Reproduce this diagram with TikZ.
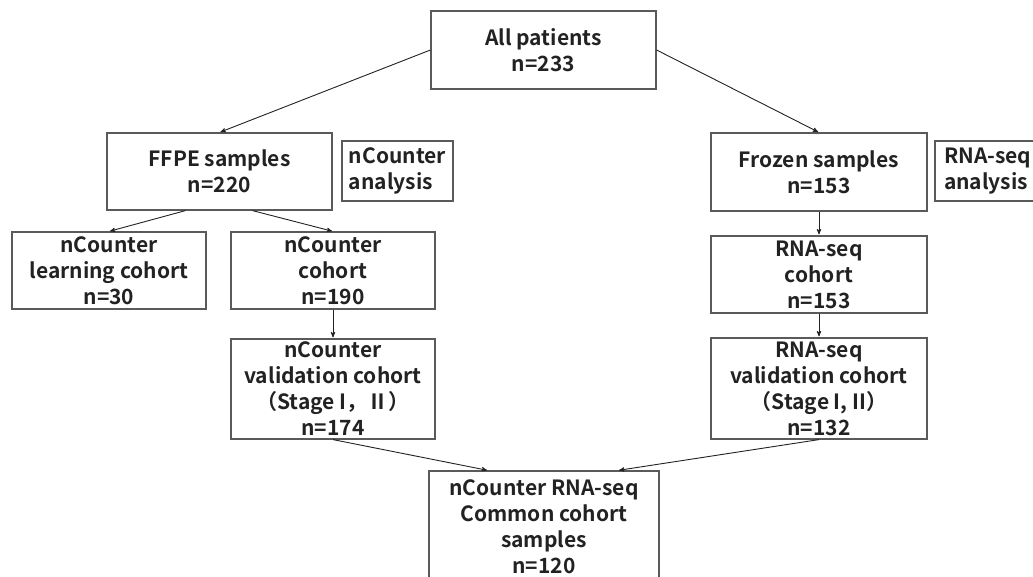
\documentclass[tikz,border=0pt]{standalone}
\usepackage{fontspec}
\setmainfont{Noto Sans CJK JP}[BoldFont={Noto Sans CJK JP Bold}]
\usepackage{tikz}
\usetikzlibrary{arrows}

\definecolor{boxgray}{HTML}{5A5A5A}
\definecolor{txtgray}{HTML}{222222}

\begin{document}
\begin{tikzpicture}[->,>=stealth',shorten >=1pt,x=1pt,y=-1pt,
                    line width=0.9pt]
\tikzstyle{box}=[draw=boxgray,line width=1.2pt,fill=white,text=txtgray,
                 align=center,inner sep=0pt]
\tikzset{font=\fontsize{21pt}{26pt}\selectfont\bfseries}

  \useasboundingbox (0,0) rectangle (1033,577);

        \node[box,minimum width=225pt,minimum height=78pt]   (all)   at (543.5,50)  {All patients\\n=233};

        \node[box,minimum width=225pt,minimum height=77pt]   (ffpe)  at (219.5,171.5) {FFPE samples\\n=220};
        \node[box,minimum width=111pt,minimum height=60pt,align=left] (nca) at (397.5,171) {nCounter\\analysis};

        \node[box,minimum width=194pt,minimum height=77pt]   (learn) at (109,270.5) {nCounter\\learning cohort\\n=30};
        \node[box,minimum width=204pt,minimum height=77pt]   (ncoh)  at (333,270.5) {nCounter\\cohort\\n=190};
        \node[box,minimum width=204pt,minimum height=100pt,node distance=118.5pt] (nval) [below of=ncoh]
             {nCounter\\validation cohort\\（Stage I，Ⅱ）\\n=174};

        \node[box,minimum width=216pt,minimum height=78pt]   (froz)  at (819,172) {Frozen samples\\n=153};
        \node[box,minimum width=124pt,minimum height=60pt,align=left,
              text width=106pt] (rna) at (997,171) {RNA-seq\\analysis};
        \node[box,minimum width=216pt,minimum height=77pt,node distance=102.5pt] (rcoh) [below of=froz]
             {RNA-seq\\cohort\\n=153};
        \node[box,minimum width=216pt,minimum height=101pt,node distance=114pt] (rval) [below of=rcoh]
             {RNA-seq\\validation cohort\\（Stage I, II）\\n=132};

        \node[box,minimum width=230pt,minimum height=112pt]  (com)   at (544,527)
             {nCounter RNA-seq\\Common cohort\\samples\\n=120};

        \path[->,color=txtgray]
        (all.west)                  edge  (ffpe.north)
        (all.east)                  edge  (froz.north)
        ([xshift=-34pt]ffpe.south)  edge  (learn.north)
        ([xshift=33pt]ffpe.south)   edge  (ncoh.north)
        (ncoh)                      edge  (nval)
        (froz)                      edge  (rcoh)
        (rcoh)                      edge  (rval)
        (nval.south)                edge  ([xshift=-56pt]com.north)
        (rval.south)                edge  ([xshift=74pt]com.north)
        ; %end path

\end{tikzpicture}
\end{document}
